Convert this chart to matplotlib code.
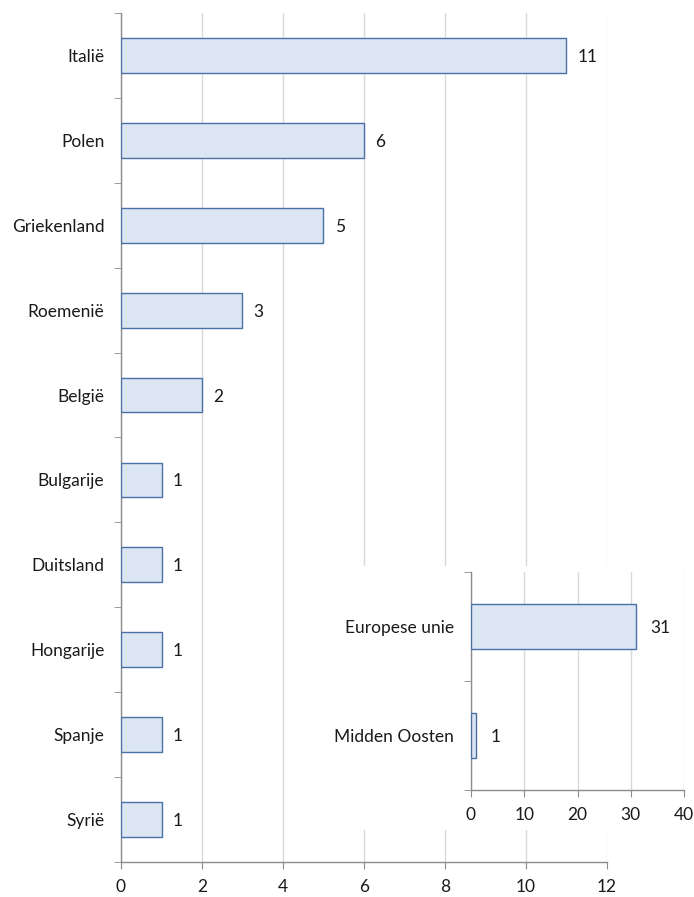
import matplotlib.pyplot as plt
import numpy as np
from matplotlib.patches import Rectangle

plt.rcParams['font.family'] = ['Lato', 'DejaVu Sans']

# main chart data (top to bottom)
landen = ['Italië', 'Polen', 'Griekenland', 'Roemenië', 'België',
          'Bulgarije', 'Duitsland', 'Hongarije', 'Spanje', 'Syrië']
aantal = [11, 6, 5, 3, 2, 1, 1, 1, 1, 1]

# inset data
regio = ['Europese unie', 'Midden Oosten']
regio_aantal = [31, 1]

fill = '#dce6f2'
edge = '#4a70a8'
axcol = '#8c8c8c'
gridcol = '#d9d9d9'
fs = 12.5

def style_bar_axes(ax, labels, values, xmax, xstep, pad_label):
    n = len(labels)
    y = np.arange(n)[::-1]
    ax.barh(y, values, height=0.41, color=fill, edgecolor=edge, linewidth=1.0, zorder=3)
    for yi, v in zip(y, values):
        ax.annotate(str(v), (v, yi), xytext=(pad_label, 0), textcoords='offset points',
                    va='center_baseline', ha='left', fontsize=fs, color='#1a1a1a')
    ax.set_ylim(-0.5, n - 0.5)
    ax.set_xlim(0, xmax)
    ax.set_yticks(y)
    ax.set_yticklabels(labels, fontsize=fs, color='#1a1a1a')
    ax.set_yticks(np.arange(n + 1) - 0.5, minor=True)
    ax.tick_params(axis='y', which='major', length=0, pad=12)
    ax.tick_params(axis='y', which='minor', length=5, color=axcol, direction='out')
    ax.set_xticks(np.arange(0, xmax + 0.1, xstep))
    ax.tick_params(axis='x', length=5, color=axcol, labelsize=fs, labelcolor='#1a1a1a', pad=7)
    ax.xaxis.grid(True, color=gridcol, linewidth=1.0, zorder=0)
    ax.set_axisbelow(True)
    for s in ['top', 'right']:
        ax.spines[s].set_visible(False)
    for s in ['left', 'bottom']:
        ax.spines[s].set_color(axcol)
        ax.spines[s].set_linewidth(1.0)

fig = plt.figure(figsize=(6.94, 8.97), dpi=100)

ax = fig.add_axes([121 / 694, 1 - 862 / 897, (607 - 121) / 694, (862 - 13) / 897])
style_bar_axes(ax, landen, aantal, 12, 2, 8)

# white background of the inset chart
fig.patches.append(Rectangle((326 / 694, 1 - 830 / 897), (694 - 326) / 694, (830 - 566) / 897,
                             transform=fig.transFigure, facecolor='white',
                             edgecolor='none', zorder=1))

ins = fig.add_axes([471 / 694, 1 - 790 / 897, (684 - 471) / 694, (790 - 572) / 897])
ins.set_zorder(2)
ins.patch.set_alpha(0)
style_bar_axes(ins, regio, regio_aantal, 40, 10, 10)

fig.savefig('out.png', dpi=100)
